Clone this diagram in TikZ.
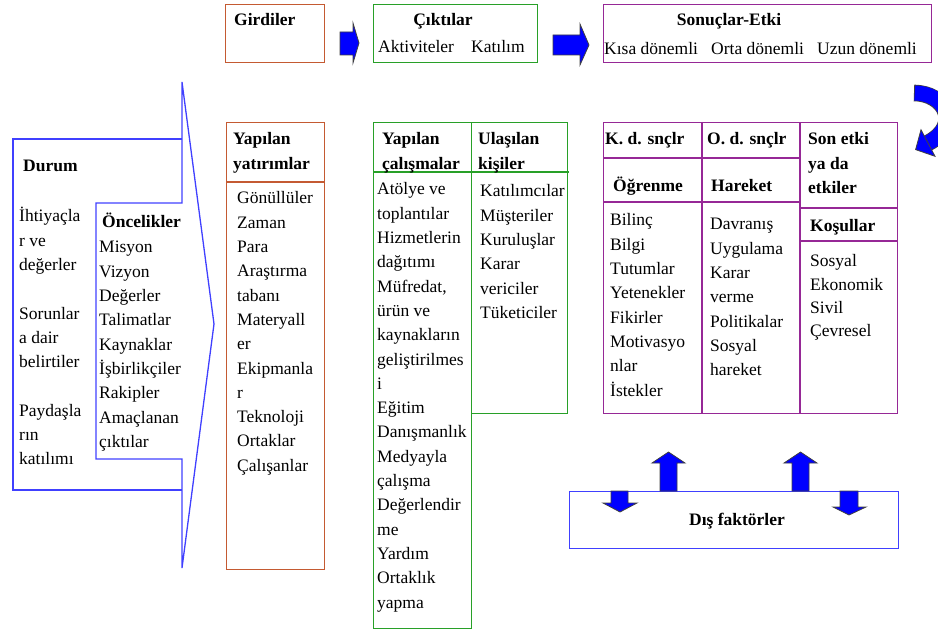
\documentclass[tikz,border=0pt]{standalone}
\usepackage{fontspec}
\setmainfont{Liberation Serif}

\definecolor{brick}{RGB}{196,90,50}
\definecolor{leaf}{RGB}{40,160,40}
\definecolor{plum}{RGB}{150,40,150}
\definecolor{frameblue}{RGB}{64,64,255}
\definecolor{arrowblue}{RGB}{0,0,255}

% left-aligned stack of lines whose baseline is the first line
\newcommand{\linestack}[1]{\begin{tabular}[t]{@{}l@{}}#1\end{tabular}}

\tikzset{
  txt/.style={anchor=base west, inner sep=0pt, font=\fontsize{17.5}{24.3}\selectfont},
  ttl/.style={anchor=base west, inner sep=0pt, font=\fontsize{17.5}{24.3}\selectfont\bfseries},
  panel/.style={draw=#1, line width=1.3pt, anchor=north west, inner sep=0pt},
  rule/.style={draw=#1, line width=1.3pt},
  outline/.style={draw=frameblue, line width=1.3pt, line join=miter},
  blockarrow/.style={fill=arrowblue, draw=black!75, line width=0.8pt, line join=miter},
}

\begin{document}
\begin{tikzpicture}[x=1pt,y=-1pt]
\useasboundingbox (0,0) rectangle (938,631);

% ---------- top row ----------
\node[panel=brick, minimum width=99pt, minimum height=58pt] (inputs) at (225,4) {};
\node[ttl] (inputsT) at (234,26) {Girdiler};

\node[panel=leaf, minimum width=164pt, minimum height=58pt] (outputs) at (373,4) {};
\node[ttl, anchor=base] (outputsT) at (443,26) {Çıktılar};
\node[txt] (activities) at (378,53) {Aktiviteler};
\node[txt] (participation) at (471,53) {Katılım};

\node[panel=plum, minimum width=328pt, minimum height=58pt] (results) at (603,4) {};
\node[ttl, anchor=base] (resultsT) at (729,26) {Sonuçlar-Etki};
\node[txt] (shortterm) at (604,55) {Kısa dönemli};
\node[txt] (midterm) at (711,55) {Orta dönemli};
\node[txt] (longterm) at (817,55) {Uzun dönemli};

\filldraw[blockarrow] (340,32) -- (353,32) -- (353,23) -- (359,43) -- (353,63) -- (353,55) -- (340,55) -- cycle;
\filldraw[blockarrow] (553,35) -- (580,35) -- (580,24) -- (589,45) -- (580,65) -- (580,55) -- (553,55) -- cycle;

% ---------- situation / priorities arrow ----------
\draw[outline] (182,139) -- (13,139) -- (13,490) -- (182,490);
\draw[outline] (182,82) -- (182,203) -- (96,203) -- (96,459) -- (182,459) -- (182,568) -- (214,324) -- cycle;

\node[ttl] (situation) at (23,172) {Durum};
\node[txt] (situationL) at (19,222) {\linestack{İhtiyaçla\\r ve\\değerler\\ \\Sorunlar\\a dair\\belirtiler\\ \\Paydaşla\\rın\\katılımı}};
\node[ttl] (priorities) at (102,228) {Öncelikler};
\node[txt] (prioritiesL) at (99,253) {\linestack{Misyon\\Vizyon\\Değerler\\Talimatlar\\Kaynaklar\\İşbirlikçiler\\Rakipler\\Amaçlanan\\çıktılar}};

% ---------- investments ----------
\node[panel=brick, minimum width=98pt, minimum height=447pt] (invest) at (226,122) {};
\draw[rule=brick] (226,182) -- (324,182);
\node[ttl] (investT) at (233,145) {\linestack{Yapılan\\yatırımlar}};
\node[txt] (investL) at (237,204) {\linestack{Gönüllüler\\Zaman\\Para\\Araştırma\\tabanı\\Materyall\\er\\Ekipmanla\\r\\Teknoloji\\Ortaklar\\Çalışanlar}};

% ---------- activities ----------
\node[panel=leaf, minimum width=98pt, minimum height=506pt] (work) at (373,122) {};
\draw[rule=leaf] (373,172) -- (471,172);
\node[ttl] (workT) at (382,145) {\linestack{Yapılan\\çalışmalar}};
\node[txt] (workL) at (377,195) {\linestack{Atölye ve\\toplantılar\\Hizmetlerin\\dağıtımı\\Müfredat,\\ürün ve\\kaynakların\\geliştirilmes\\i\\Eğitim\\Danışmanlık\\Medyayla\\çalışma\\Değerlendir\\me\\Yardım\\Ortaklık\\yapma}};

% ---------- people reached ----------
\node[panel=leaf, minimum width=96pt, minimum height=291pt] (people) at (471,122) {};
\draw[rule=leaf] (471,172) -- (569,172);
\node[ttl] (peopleT) at (478,145) {\linestack{Ulaşılan\\kişiler}};
\node[txt] (peopleL) at (480,197) {\linestack{Katılımcılar\\Müşteriler\\Kuruluşlar\\Karar\\vericiler\\Tüketiciler}};

% ---------- outcomes table ----------
\node[panel=plum, minimum width=294pt, minimum height=291pt] (outcomes) at (603,122) {};
\draw[rule=plum] (702,122) -- (702,413);
\draw[rule=plum] (800,122) -- (800,413);
\draw[rule=plum] (603,158) -- (800,158);
\draw[rule=plum] (603,202) -- (800,202);
\draw[rule=plum] (800,208) -- (897,208);
\draw[rule=plum] (800,241) -- (897,241);

\node[ttl] (shortT) at (605,145) {K. d. snçlr};
\node[ttl] (midT) at (707,145) {O. d. snçlr};
\node[ttl] (finalT) at (808,145) {\linestack{Son etki\\ya da\\etkiler}};
\node[ttl] (learning) at (613,192) {Öğrenme};
\node[ttl] (action) at (711,192) {Hareket};
\node[ttl] (conditions) at (810,232) {Koşullar};
\node[txt] (learningL) at (610,226) {\linestack{Bilinç\\Bilgi\\Tutumlar\\Yetenekler\\Fikirler\\Motivasyo\\nlar\\İstekler}};
\node[txt] (actionL) at (710,230) {\linestack{Davranış\\Uygulama\\Karar\\verme\\Politikalar\\Sosyal\\hareket}};
\node[txt] (conditionsL) at (810,267) {\renewcommand{\arraystretch}{0.96}\linestack{Sosyal\\Ekonomik\\Sivil\\Çevresel}};

% ---------- external factors ----------
\node[panel=frameblue, minimum width=329pt, minimum height=57pt] (external) at (569,491) {};
\node[ttl, anchor=base] (externalT) at (737,525) {Dış faktörler};

\filldraw[blockarrow] (660,491) -- (660,463) -- (652,463) -- (668.5,452) -- (685,463) -- (677,463) -- (677,491) -- cycle;
\filldraw[blockarrow] (792,491) -- (792,463) -- (784,463) -- (800.5,452) -- (817,463) -- (809,463) -- (809,491) -- cycle;
\filldraw[blockarrow] (611,491) -- (611,503) -- (603,503) -- (620,512) -- (637,503) -- (628,503) -- (628,491) -- cycle;
\filldraw[blockarrow] (840,491) -- (840,507) -- (833,507) -- (849,515) -- (866,507) -- (858,507) -- (858,491) -- cycle;

% ---------- curved feedback arrow at the right edge ----------
\begin{scope}
  \clip (0,0) rectangle (938,631);
  \draw[line width=16.6pt, black!75] (914,93) .. controls (945,93) and (962,125) .. (928,143);
  \draw[line width=15pt, arrowblue] (914.8,93) .. controls (945,93) and (962,125) .. (928,143);
  \filldraw[blockarrow] (921,129.7) -- (915.6,149.6) -- (935,156.3) -- cycle;
\end{scope}
\end{tikzpicture}
\end{document}
